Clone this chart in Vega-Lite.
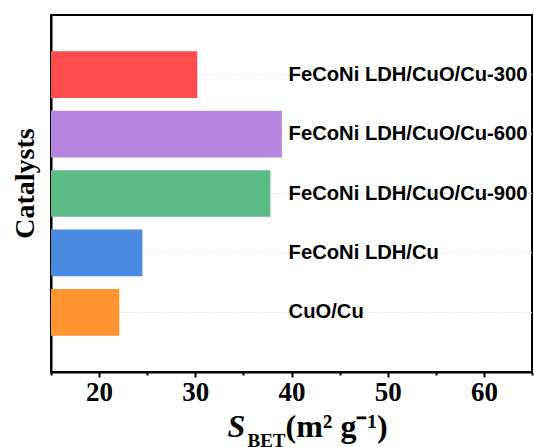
{
  "$schema": "https://vega.github.io/schema/vega-lite/v6.json",
  "autosize": {"type": "none"},
  "padding": {"left": 51, "top": 15, "right": 2, "bottom": 75},
  "width": 481,
  "height": 357,
  "background": "white",
  "data": {
    "values": [
      {"catalyst": "FeCoNi LDH/CuO/Cu-300", "sbet": 30.2},
      {"catalyst": "FeCoNi LDH/CuO/Cu-600", "sbet": 39.0},
      {"catalyst": "FeCoNi LDH/CuO/Cu-900", "sbet": 37.8},
      {"catalyst": "FeCoNi LDH/Cu", "sbet": 24.5},
      {"catalyst": "CuO/Cu", "sbet": 22.1}
    ]
  },
  "encoding": {
    "y": {
      "field": "catalyst",
      "type": "nominal",
      "scale": {
        "domain": ["FeCoNi LDH/CuO/Cu-300", "FeCoNi LDH/CuO/Cu-600", "FeCoNi LDH/CuO/Cu-900", "FeCoNi LDH/Cu", "CuO/Cu"],
        "paddingInner": 0.215,
        "paddingOuter": 0.61
      },
      "axis": {
        "title": "Catalysts",
        "titleFont": "Liberation Serif",
        "titleFontWeight": "bold",
        "titleFontSize": 28,
        "titleColor": "black",
        "titleAngle": 270,
        "titleAlign": "center",
        "titleBaseline": "alphabetic",
        "titleX": -18,
        "titleY": 168,
        "labels": false,
        "ticks": false,
        "grid": false,
        "domainColor": "black",
        "domainWidth": 2
      }
    }
  },
  "layer": [
    {
      "mark": {"type": "rule", "color": "#d4d4d4", "strokeWidth": 1, "strokeDash": [1, 2]},
      "encoding": {
        "x": {
          "datum": 15,
          "type": "quantitative",
          "scale": {"domain": [15, 65], "nice": false, "zero": false},
          "axis": {
            "orient": "bottom",
            "title": "BET",
            "titleFont": "Liberation Serif",
            "titleFontWeight": "bold",
            "titleFontSize": 19,
            "titleColor": "black",
            "titleAlign": "left",
            "titleBaseline": "alphabetic",
            "titleAnchor": "start",
            "titleX": 196,
            "titleY": 74,
            "labels": false,
            "ticks": false,
            "domain": false,
            "grid": false
          }
        },
        "x2": {"datum": 65}
      }
    },
    {
      "mark": {"type": "bar", "height": {"band": 1}},
      "encoding": {
        "x": {
          "field": "sbet",
          "type": "quantitative",
          "scale": {"domain": [15, 65], "nice": false, "zero": false},
          "axis": {
            "orient": "bottom",
            "values": [20, 30, 40, 50, 60],
            "title": "(m² g⁻¹)",
            "titleFont": "Liberation Serif",
            "titleFontWeight": "bold",
            "titleFontSize": 32,
            "titleColor": "black",
            "titleAlign": "left",
            "titleBaseline": "alphabetic",
            "titleAnchor": "start",
            "titleX": 234,
            "titleY": 64,
            "labelFont": "Liberation Serif",
            "labelFontWeight": "bold",
            "labelFontSize": 27,
            "labelColor": "black",
            "labelPadding": 2,
            "tickSize": 5,
            "tickWidth": 2,
            "tickColor": "black",
            "domainColor": "black",
            "domainWidth": 2,
            "grid": false
          }
        },
        "x2": {"datum": 15},
        "color": {
          "field": "catalyst",
          "type": "nominal",
          "scale": {
            "domain": ["FeCoNi LDH/CuO/Cu-300", "FeCoNi LDH/CuO/Cu-600", "FeCoNi LDH/CuO/Cu-900", "FeCoNi LDH/Cu", "CuO/Cu"],
            "range": ["#ff4b4b", "#b784de", "#5bbd85", "#4a89e0", "#ff9430"]
          },
          "legend": null
        }
      }
    },
    {
      "mark": {
        "type": "text",
        "align": "left",
        "baseline": "middle",
        "font": "Liberation Sans",
        "fontWeight": "bold",
        "fontSize": 20.2,
        "color": "black"
      },
      "encoding": {
        "x": {
          "datum": 39.7,
          "type": "quantitative",
          "scale": {"domain": [15, 65], "nice": false, "zero": false},
          "axis": {
            "orient": "bottom",
            "values": [15, 25, 35, 45, 55, 65],
            "title": "S",
            "titleFont": "Liberation Serif",
            "titleFontWeight": "bold",
            "titleFontStyle": "italic",
            "titleFontSize": 32,
            "titleColor": "black",
            "titleAlign": "left",
            "titleBaseline": "alphabetic",
            "titleAnchor": "start",
            "titleX": 176,
            "titleY": 64,
            "labels": false,
            "tickSize": 3,
            "tickWidth": 2,
            "tickColor": "black",
            "domain": false,
            "grid": false
          }
        },
        "text": {"field": "catalyst"}
      }
    }
  ],
  "resolve": {"axis": {"x": "independent"}},
  "config": {
    "view": {"stroke": "black", "strokeWidth": 2}
  }
}
